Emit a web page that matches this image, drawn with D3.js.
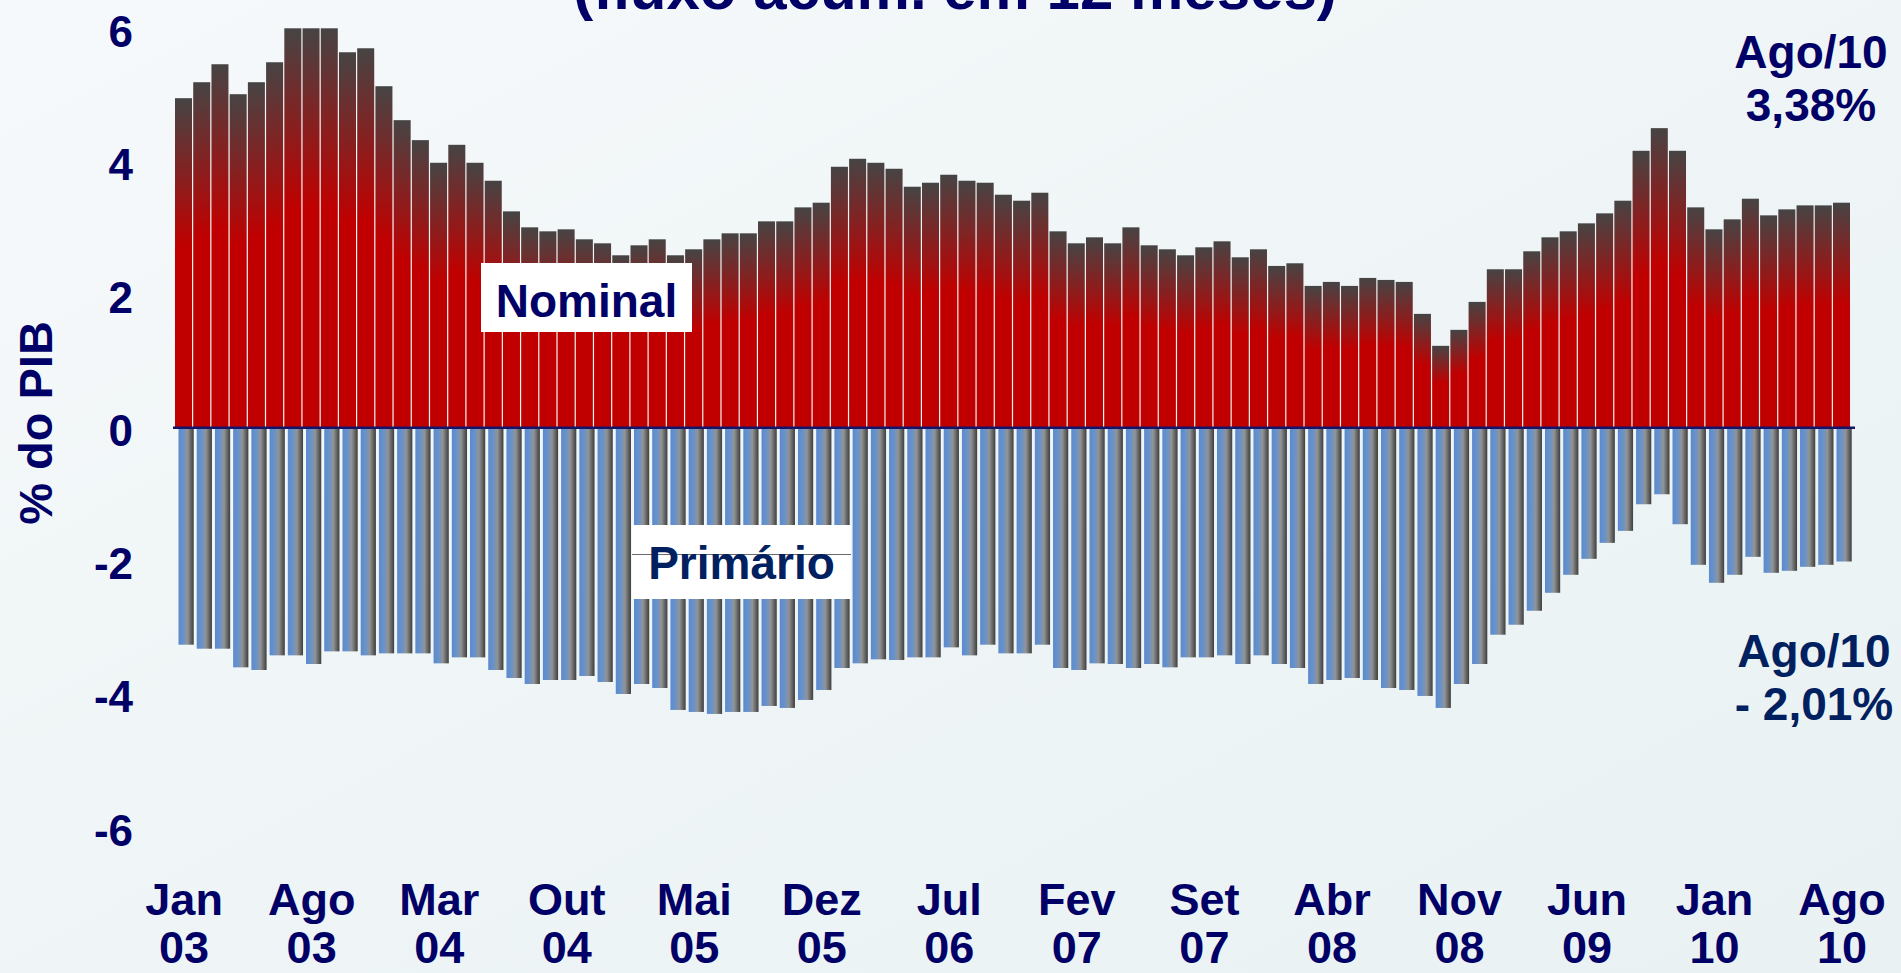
<!DOCTYPE html>
<html><head><meta charset="utf-8">
<script src="https://cdn.jsdelivr.net/npm/d3@7"></script>
<style>html,body{margin:0;padding:0;overflow:hidden;background:#f1f6f8}</style>
</head><body>
<svg id="chart" width="1901" height="973"></svg>
<script>
// ---------- DATA ----------
const monthNames = ["Jan","Fev","Mar","Abr","Mai","Jun","Jul","Ago","Set","Out","Nov","Dez"];
const years = ["03","04","05","06","07","08","09","10"];
const categories = [];
years.forEach(y => monthNames.forEach(m => categories.push(m + "/" + y)));
categories.length = 92; // Jan/03 .. Ago/10

const nominal = [
  4.95, 5.19, 5.46, 5.01, 5.19, 5.49, 6.00, 6.00, 6.00, 5.64, 5.70, 5.13,
  4.62, 4.32, 3.98, 4.25, 3.98, 3.71, 3.25, 3.01, 2.95, 2.98, 2.83, 2.77,
  2.59, 2.74, 2.83, 2.59, 2.68, 2.83, 2.92, 2.92, 3.10, 3.10, 3.31, 3.38,
  3.92, 4.04, 3.98, 3.89, 3.62, 3.68, 3.80, 3.71, 3.68, 3.50, 3.41, 3.53,
  2.95, 2.77, 2.86, 2.77, 3.01, 2.74, 2.68, 2.59, 2.71, 2.80, 2.56, 2.68,
  2.43, 2.47, 2.13, 2.19, 2.13, 2.25, 2.22, 2.19, 1.71, 1.23, 1.47, 1.89,
  2.38, 2.38, 2.65, 2.86, 2.95, 3.07, 3.22, 3.41, 4.16, 4.50, 4.16, 3.31,
  2.98, 3.13, 3.44, 3.19, 3.28, 3.34, 3.34, 3.38
];
const primario = [
  -3.26, -3.32, -3.32, -3.60, -3.64, -3.42, -3.42, -3.55, -3.36, -3.36, -3.42, -3.39,
  -3.39, -3.39, -3.54, -3.45, -3.45, -3.64, -3.76, -3.85, -3.79, -3.79, -3.73, -3.82,
  -4.00, -3.85, -3.91, -4.24, -4.27, -4.30, -4.27, -4.27, -4.18, -4.21, -4.09, -3.94,
  -3.61, -3.54, -3.48, -3.49, -3.45, -3.45, -3.30, -3.42, -3.26, -3.39, -3.39, -3.26,
  -3.61, -3.64, -3.54, -3.55, -3.61, -3.55, -3.60, -3.45, -3.45, -3.42, -3.55, -3.42,
  -3.55, -3.61, -3.85, -3.79, -3.76, -3.79, -3.91, -3.94, -4.03, -4.21, -3.85, -3.55,
  -3.11, -2.96, -2.75, -2.48, -2.21, -1.97, -1.73, -1.55, -1.15, -1.00, -1.45, -2.06,
  -2.33, -2.21, -1.94, -2.18, -2.15, -2.09, -2.06, -2.01
];
const yTicks = [-6, -4, -2, 0, 2, 4, 6];
const xTickCategories = ["Jan/03","Ago/03","Mar/04","Out/04","Mai/05","Dez/05","Jul/06",
                         "Fev/07","Set/07","Abr/08","Nov/08","Jun/09","Jan/10","Ago/10"];
const titleText = "(fluxo acum. em 12 meses)";
const yLabelText = "% do PIB";
const seriesLabels = ["Nominal", "Primário"];
const nominalLast = ["Ago/10", "3,38%"];
const primarioLast = ["Ago/10", "- 2,01%"];

// ---------- DRAW ----------
const svg = d3.select("#chart");
const FONT = "'Liberation Sans', Arial, Helvetica, sans-serif";
const NAVY = "#000066", NAVY2 = "#002060";

const defs = svg.append("defs");
const bg = defs.append("linearGradient").attr("id","bgGrad").attr("x1",0).attr("y1",0).attr("x2",1).attr("y2",1);
bg.append("stop").attr("offset",0).attr("stop-color","#f6f9fb");
bg.append("stop").attr("offset",0.5).attr("stop-color","#eff5f6");
bg.append("stop").attr("offset",1).attr("stop-color","#e9f1f2");
const rg = defs.append("linearGradient").attr("id","redGrad").attr("x1",0).attr("y1",0).attr("x2",0).attr("y2",1);
rg.append("stop").attr("offset",0).attr("stop-color","#464444");
rg.append("stop").attr("offset",0.45).attr("stop-color","#c00000");
rg.append("stop").attr("offset",1).attr("stop-color","#c00000");
const bgd = defs.append("linearGradient").attr("id","blueGrad").attr("x1",0).attr("y1",0).attr("x2",1).attr("y2",0);
bgd.append("stop").attr("offset",0).attr("stop-color","#5a8acf");
bgd.append("stop").attr("offset",0.35).attr("stop-color","#6b93c8");
bgd.append("stop").attr("offset",0.6).attr("stop-color","#929394");
bgd.append("stop").attr("offset",1).attr("stop-color","#3e3e3e");

svg.append("rect").attr("width",1901).attr("height",973).attr("fill","url(#bgGrad)");

const x = d3.scaleBand().domain(categories).range([175, 1851.2]).paddingInner(0).paddingOuter(0);
const y = d3.scaleLinear().domain([-6, 6]).range([827.1, 28.3]);
const bw = x.bandwidth();

// Nominal bars
svg.append("g").selectAll("rect").data(categories).join("rect")
  .attr("x", d => x(d))
  .attr("width", bw - 1.2)
  .attr("y", (d,i) => y(nominal[i]))
  .attr("height", (d,i) => y(0) - y(nominal[i]))
  .attr("fill", "url(#redGrad)");

// Primario bars
svg.append("g").selectAll("rect").data(categories).join("rect")
  .attr("x", d => x(d) + 3.5)
  .attr("width", bw - 3)
  .attr("y", y(0))
  .attr("height", (d,i) => y(primario[i]) - y(0))
  .attr("fill", "url(#blueGrad)");

// zero line
svg.append("line").attr("x1", 173).attr("x2", 1855).attr("y1", y(0)).attr("y2", y(0))
  .attr("stroke", "#14146a").attr("stroke-width", 2.5);

// y tick labels
svg.append("g").selectAll("text").data(yTicks).join("text")
  .attr("x", 133).attr("y", d => y(d) + 18.5)
  .attr("text-anchor", "end")
  .attr("font-family", FONT).attr("font-weight", "bold").attr("font-size", 44)
  .attr("fill", NAVY).text(d => d);

// y axis label
svg.append("text").attr("transform", "translate(52,423) rotate(-90)")
  .attr("text-anchor", "middle")
  .attr("font-family", FONT).attr("font-weight", "bold").attr("font-size", 47)
  .attr("fill", NAVY).text(yLabelText);

// x tick labels
const xl = svg.append("g").selectAll("text").data(xTickCategories).join("text")
  .attr("text-anchor", "middle")
  .attr("font-family", FONT).attr("font-weight", "bold").attr("font-size", 45)
  .attr("fill", NAVY);
xl.append("tspan").attr("x", d => x(d) + bw/2).attr("y", 915).text(d => d.split("/")[0]);
xl.append("tspan").attr("x", d => x(d) + bw/2).attr("y", 963).text(d => d.split("/")[1]);

// title (cut by top edge, as in the reference)
svg.append("text").attr("x", 955).attr("y", 9).attr("text-anchor", "middle")
  .attr("font-family", FONT).attr("font-weight", "bold").attr("font-size", 60)
  .attr("fill", NAVY).text(titleText);

// series label boxes
svg.append("rect").attr("x", 481).attr("y", 263).attr("width", 211).attr("height", 69).attr("fill", "#ffffff");
svg.append("text").attr("x", 586.5).attr("y", 317).attr("text-anchor", "middle")
  .attr("font-family", FONT).attr("font-weight", "bold").attr("font-size", 46)
  .attr("fill", NAVY).text(seriesLabels[0]);

svg.append("rect").attr("x", 632).attr("y", 525).attr("width", 219).attr("height", 74).attr("fill", "#ffffff");
svg.append("line").attr("x1", 632).attr("x2", 851).attr("y1", 554.5).attr("y2", 554.5)
  .attr("stroke", "#6a6a6a").attr("stroke-width", 1);
svg.append("text").attr("x", 741.5).attr("y", 579).attr("text-anchor", "middle")
  .attr("font-family", FONT).attr("font-weight", "bold").attr("font-size", 46)
  .attr("fill", NAVY2).text(seriesLabels[1]);

// last-value annotations
const ann1 = svg.append("text").attr("text-anchor", "middle")
  .attr("font-family", FONT).attr("font-weight", "bold").attr("font-size", 46).attr("fill", NAVY);
ann1.append("tspan").attr("x", 1811).attr("y", 68).text(nominalLast[0]);
ann1.append("tspan").attr("x", 1811).attr("y", 121).text(nominalLast[1]);

const ann2 = svg.append("text").attr("text-anchor", "middle")
  .attr("font-family", FONT).attr("font-weight", "bold").attr("font-size", 46).attr("fill", NAVY2);
ann2.append("tspan").attr("x", 1814).attr("y", 667).text(primarioLast[0]);
ann2.append("tspan").attr("x", 1814).attr("y", 720).text(primarioLast[1]);
</script>
</body></html>
